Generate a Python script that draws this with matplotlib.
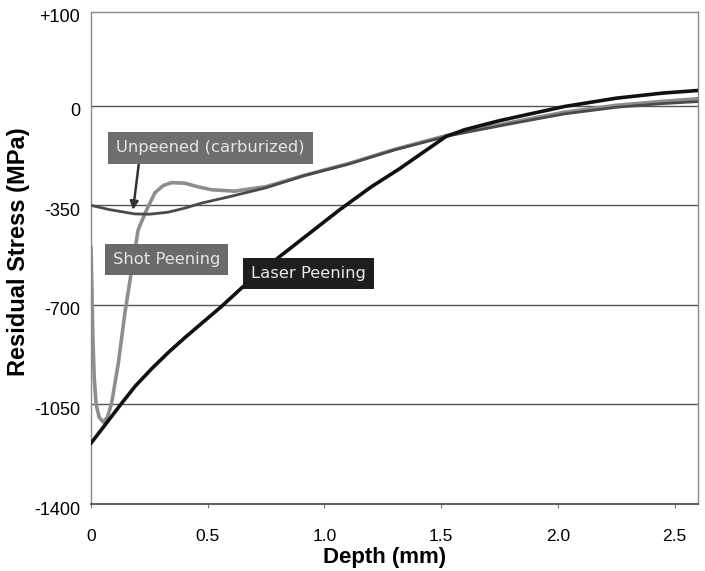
import matplotlib
matplotlib.use("Agg")
import matplotlib.pyplot as plt
from matplotlib.transforms import ScaledTranslation

# depth (mm) / residual stress (MPa)
unpeened_x = [0, 0.08, 0.188, 0.25, 0.33, 0.4, 0.473, 0.6, 0.75, 0.915, 1.107, 1.3, 1.534, 1.677,
              1.85, 2.03, 2.25, 2.45, 2.6]
unpeened_y = [-350, -365, -380, -381, -374, -360, -342, -318, -288, -245, -204, -155, -105, -82,
              -55, -28, -5, 8, 15]

shot_x = [0, 0.004, 0.008, 0.014, 0.022, 0.035, 0.053, 0.07, 0.088, 0.117, 0.145, 0.174, 0.202,
          0.238, 0.274, 0.31, 0.345, 0.402, 0.46, 0.516, 0.615, 0.75, 0.915, 1.107, 1.3, 1.534,
          1.677, 1.85, 2.03, 2.25, 2.45, 2.6]
shot_y = [-500, -650, -820, -960, -1050, -1095, -1112, -1095, -1046, -905, -729, -577, -436,
          -366, -305, -280, -270, -272, -285, -295, -300, -284, -244, -202, -153, -102,
          -78, -50, -22, 2, 16, 25]

laser_x = [0, 0.06, 0.131, 0.19, 0.259, 0.33, 0.402, 0.558, 0.644, 0.808, 1.064, 1.2, 1.32, 1.42,
           1.52, 1.6, 1.75, 1.9, 2.03, 2.25, 2.45, 2.6]
laser_y = [-1186, -1122, -1046, -985, -925, -868, -815, -706, -641, -530, -366, -285, -222, -165,
           -108, -84, -52, -25, -2, 27, 45, 54]

x_ticks = [0, 0.5, 1.0, 1.5, 2.0, 2.5]
x_labels = ["0", "0.5", "1.0", "1.5", "2.0", "2.5"]
y_ticks = [-1400, -1050, -700, -350, 0, 330]
y_labels = ["-1400", "-1050", "-700", "-350", "0", "+100"]
grid_levels = [-1050, -700, -350, 0]

fig = plt.figure(figsize=(7.05, 5.71), dpi=100)
ax = fig.add_axes([0.1291, 0.1173, 0.861, 0.8617])

# horizontal grid lines
for g in grid_levels:
  ax.axhline(g, color="#555555", lw=1.0, zorder=1)

# curves
ax.plot(unpeened_x, unpeened_y, color="#4a4a4a", lw=2.0, zorder=3, solid_joinstyle="round")
ax.plot(shot_x, shot_y, color="#8e8e8e", lw=2.6, zorder=2, solid_joinstyle="round")
ax.plot(laser_x, laser_y, color="#111111", lw=2.6, zorder=4, solid_joinstyle="round")

# label boxes
box_font = dict(fontsize=11.8, family="DejaVu Sans", ha="center", va="center")
ax.annotate("Unpeened (carburized)", xy=(0.18, -366), xytext=(0.513, -148),
            color="#e6e6e6",
            bbox=dict(boxstyle="square,pad=0.5", fc="#6e6e6e", ec="none"),
            arrowprops=dict(arrowstyle="-|>", color="#333333", lw=1.8, relpos=(0.124, 0),
                            shrinkA=0, shrinkB=0, mutation_scale=12),
            zorder=6, **box_font)
ax.text(0.323, -540, "Shot Peening", color="#e6e6e6",
        bbox=dict(boxstyle="square,pad=0.5", fc="#6a6a6a", ec="none"), zorder=6, **box_font)
ax.text(0.932, -589, "Laser Peening", color="#e8e8e8",
        bbox=dict(boxstyle="square,pad=0.5", fc="#1e1e1e", ec="none"), zorder=6, **box_font)

# axes styling
ax.set_xlim(0, 2.6)
ax.set_ylim(-1400, 330)
ax.set_xticks(x_ticks)
ax.set_xticklabels(x_labels, fontsize=12.5, family="Liberation Sans")
ax.set_yticks(y_ticks)
ax.set_yticklabels(y_labels, fontsize=13, family="Liberation Sans")
ax.tick_params(axis="x", length=3, width=0.8, color="#777777", pad=15)
ax.tick_params(axis="y", length=0, pad=8)
for lab in ax.get_yticklabels():
  lab.set_transform(lab.get_transform() + ScaledTranslation(0, -4 / 100, fig.dpi_scale_trans))

for side in ["left", "right", "top"]:
  ax.spines[side].set_color("#8a8a8a")
  ax.spines[side].set_linewidth(1.0)
ax.spines["bottom"].set_color("#444444")
ax.spines["bottom"].set_linewidth(1.2)

ax.set_xlabel("Depth (mm)", fontsize=16, fontweight="bold", family="Liberation Sans")
ax.xaxis.set_label_coords(0.483, -0.088)
ax.set_ylabel("Residual Stress (MPa)", fontsize=17, fontweight="bold", family="Liberation Sans")
ax.yaxis.set_label_coords(-0.1, 0.512)

fig.savefig("out.png", dpi=100)
